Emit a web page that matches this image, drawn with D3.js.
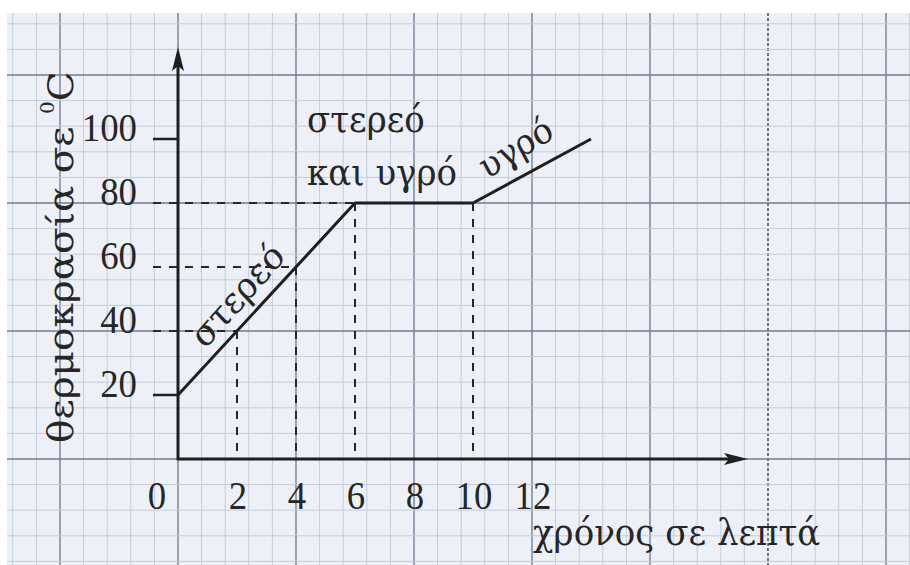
<!DOCTYPE html>
<html>
<head>
<meta charset="utf-8">
<script src="https://cdn.jsdelivr.net/npm/d3@7"></script>
<style>
  body { margin: 0; background: #ffffff; }
  text { font-family: "Liberation Serif", "DejaVu Serif", serif; fill: #262626; }
  text.greek { font-family: "DejaVu Serif", "Liberation Serif", serif; }
</style>
</head>
<body>
<div id="chart"></div>
<script>
// --- 1. DATA ---
var curveTimes = [0, 6, 10, 14];          // minutes
var curveTemps = [20, 80, 80, 100];       // degrees C
var guideTimes = [2, 4, 6, 10];           // dashed verticals
var guideTemps = [40, 60, 80, 80];        // dashed horizontals (value on curve)
var yTickValues = [20, 40, 60, 80, 100];
var xTickValues = [0, 2, 4, 6, 8, 10, 12];
var xTitle = "χρόνος σε λεπτά";
var yTitle = "θερμοκρασία σε ";
var phaseLabels = ["στερεό", "στερεό", "και υγρό", "υγρό"];

// --- 2. SETUP ---
var width = 910;
var height = 565;
var squash = 0.92; // the scan is a little narrower than tall

var svg = d3.select("#chart")
  .append("svg")
  .attr("width", width)
  .attr("height", height);

var x = d3.scaleLinear().domain([0, 12]).range([178, 532]);
var y = d3.scaleLinear().domain([0, 100]).range([459, 139]);

// --- 3. GRAPH PAPER ---
var paper = { x0: 7, y0: 13 };
svg.append("rect")
  .attr("x", paper.x0).attr("y", paper.y0)
  .attr("width", width - paper.x0).attr("height", height - paper.y0)
  .attr("fill", "#edf1f7");

// minor square = 0.8 min across, 8 degrees up; major = 5 minors
var vGrid = d3.range(-7, 32).filter(k => x(k * 0.8) > paper.x0 && x(k * 0.8) < width);
var hGrid = d3.range(-4, 18).filter(k => y(k * 8) > paper.y0 && y(k * 8) < height);

svg.append("g").selectAll("line")
  .data(vGrid).enter().append("line")
  .attr("x1", k => x(k * 0.8)).attr("x2", k => x(k * 0.8))
  .attr("y1", paper.y0).attr("y2", height)
  .attr("stroke", k => k % 5 === 0 ? (k === 25 ? "#4d5563" : "#7f8da3") : "#c4ccd9")
  .attr("stroke-width", k => k % 5 === 0 ? 1.6 : 1)
  .attr("stroke-dasharray", k => k === 25 ? "3,2" : null);

svg.append("g").selectAll("line")
  .data(hGrid).enter().append("line")
  .attr("y1", k => y(k * 8)).attr("y2", k => y(k * 8))
  .attr("x1", paper.x0).attr("x2", width)
  .attr("stroke", k => k % 5 === 0 ? "#6f7b8e" : "#c4ccd9")
  .attr("stroke-width", k => k % 5 === 0 ? 1.6 : 1);

// --- 4. GUIDES (dashed) ---
var guides = svg.append("g")
  .attr("stroke", "#262626")
  .attr("stroke-width", 2)
  .attr("stroke-dasharray", "8,8")
  .attr("fill", "none");

guides.selectAll(".vguide")
  .data(guideTimes).enter().append("line")
  .attr("class", "vguide")
  .attr("x1", d => x(d)).attr("x2", d => x(d))
  .attr("y1", (d, i) => y(guideTemps[i])).attr("y2", y(0));

guides.selectAll(".hguide")
  .data(guideTemps.slice(0, 3)).enter().append("line")
  .attr("class", "hguide")
  .attr("x1", x(0) - 25)
  .attr("x2", (d, i) => x(guideTimes[i]))
  .attr("y1", d => y(d)).attr("y2", d => y(d));

// --- 5. AXES ---
var axisColor = "#1f1f1f";
svg.append("line")
  .attr("x1", x(0)).attr("x2", x(0))
  .attr("y1", y(0) + 1).attr("y2", 60)
  .attr("stroke", axisColor).attr("stroke-width", 3);
svg.append("line")
  .attr("x1", x(0) - 1).attr("x2", 735)
  .attr("y1", y(0)).attr("y2", y(0))
  .attr("stroke", axisColor).attr("stroke-width", 3);

// arrow heads
svg.append("path")
  .attr("d", "M" + x(0) + ",47 l-6,24 l6,-5 l6,5 z")
  .attr("fill", axisColor);
svg.append("path")
  .attr("d", "M748," + y(0) + " l-24,-6 l5,6 l-5,6 z")
  .attr("fill", axisColor);

// short ticks at 20 and 100
svg.selectAll(".ytick")
  .data([20, 100]).enter().append("line")
  .attr("class", "ytick")
  .attr("x1", x(0) - 25).attr("x2", x(0))
  .attr("y1", d => y(d)).attr("y2", d => y(d))
  .attr("stroke", axisColor).attr("stroke-width", 2.5);

// tick labels
svg.selectAll(".ylabel")
  .data(yTickValues).enter().append("text")
  .attr("class", "ylabel")
  .attr("transform", d => "translate(137," + (y(d) + 2) + ") scale(" + squash + ",1)")
  .attr("text-anchor", "end")
  .attr("font-size", 40)
  .text(d => d);

svg.selectAll(".xlabel")
  .data(xTickValues).enter().append("text")
  .attr("class", "xlabel")
  .attr("transform", d => "translate(" + (x(d) + (d === 0 ? -21 : 1)) + ",509) scale(" + squash + ",1)")
  .attr("text-anchor", "middle")
  .attr("font-size", 40)
  .text(d => d);

// axis titles
svg.append("text")
  .attr("class", "greek")
  .attr("transform", "translate(533,545) scale(" + squash + ",1)")
  .attr("font-size", 37)
  .text(xTitle);

var yt = svg.append("text")
  .attr("class", "greek")
  .attr("transform", "translate(73,443) scale(" + squash + ",1) rotate(-90)")
  .attr("font-size", 39);
yt.append("tspan").text(yTitle);
yt.append("tspan").attr("font-size", 20).attr("dy", -21).text("0");
yt.append("tspan").attr("dy", 21).text("C");

// --- 6. HEATING CURVE ---
var line = d3.line()
  .x(d => x(d[0]))
  .y(d => y(d[1]));

svg.append("path")
  .datum(d3.zip(curveTimes, curveTemps))
  .attr("d", line)
  .attr("fill", "none")
  .attr("stroke", "#1f1f1f")
  .attr("stroke-width", 3)
  .attr("stroke-linejoin", "round");

// --- 7. PHASE LABELS ---
svg.append("text")
  .attr("class", "greek")
  .attr("transform", "translate(205,350) scale(" + squash + ",1) rotate(-46)")
  .attr("font-size", 37)
  .text(phaseLabels[0]);

svg.append("text")
  .attr("class", "greek")
  .attr("transform", "translate(307,132) scale(" + squash + ",1)")
  .attr("font-size", 37)
  .text(phaseLabels[1]);

svg.append("text")
  .attr("class", "greek")
  .attr("transform", "translate(307,185) scale(" + squash + ",1)")
  .attr("font-size", 37)
  .text(phaseLabels[2]);

svg.append("text")
  .attr("class", "greek")
  .attr("transform", "translate(487,180) scale(" + squash + ",1) rotate(-30)")
  .attr("font-size", 36)
  .text(phaseLabels[3]);
</script>
</body>
</html>
